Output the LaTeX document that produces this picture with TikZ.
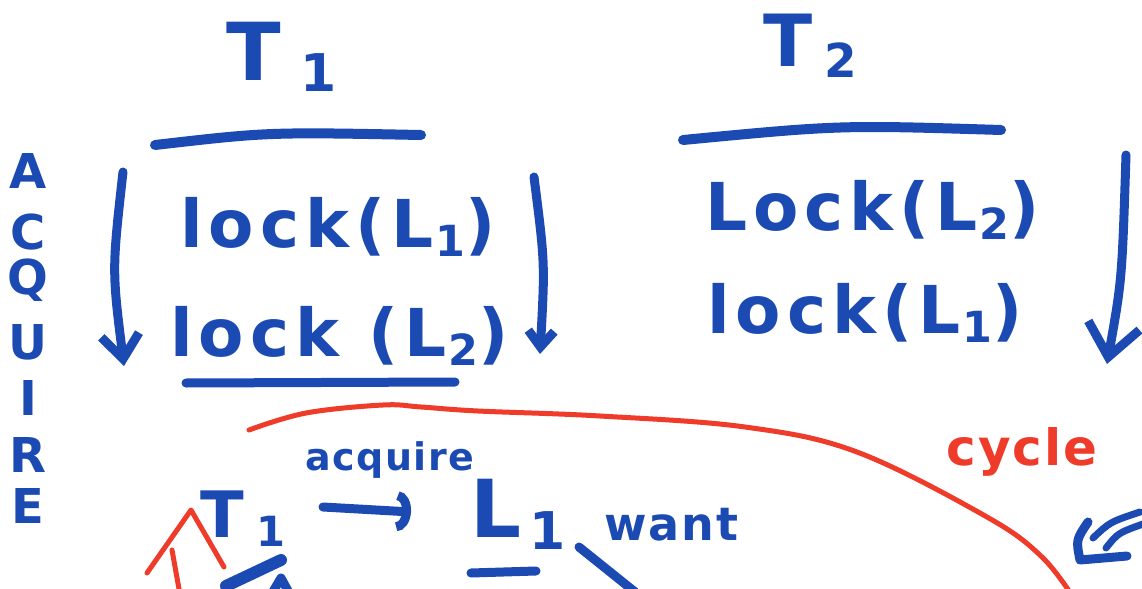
\documentclass[tikz,border=0pt]{standalone}
\usepackage{fontspec}
\usepackage{graphicx}
\newfontfamily\hand[LetterSpace=4]{DejaVu Sans}
\newfontfamily\handwide[LetterSpace=9]{DejaVu Sans}
\usetikzlibrary{arrows.meta}
\definecolor{ink}{HTML}{1B4AB3}
\definecolor{redink}{HTML}{EE3B2A}
\newcommand\hsub[2]{\kern#1\raisebox{-0.15em}{\scalebox{0.65}{#2}}}
\begin{document}
\begin{tikzpicture}[x=0.5pt,y=-0.5pt,
  handtext/.style={text=ink,inner sep=0pt,anchor=base west,font=\hand\bfseries\fontsize{#1}{#1}\selectfont},
  widetext/.style={text=ink,inner sep=0pt,anchor=base west,font=\handwide\bfseries\fontsize{#1}{#1}\selectfont},
  redtext/.style={text=redink,inner sep=0pt,anchor=base west,font=\hand\bfseries\fontsize{#1}{#1}\selectfont},
  stroke/.style={draw=ink,line width=4.5pt,line cap=round,line join=round},
  redstroke/.style={draw=redink,line width=2.5pt,line cap=round,line join=round}]
\useasboundingbox (0,0) rectangle (1142,589);
\clip (0,0) rectangle (1142,589);

% titles
\node[handtext=40] (t1title) at (226,80) {T\hsub{10pt}{1}};
\node[handtext=36] (t2title) at (763,67) {T\hsub{6pt}{2}};
\draw[stroke,line width=5pt] (155,145) .. controls (268,132) .. (421,135);
\draw[stroke,line width=5pt] (683,140) .. controls (840,125) .. (1001,130);

% ACQUIRE
\foreach \ch/\yy [count=\i] in {A/171,C/232,Q/280,U/342,I/398,R/455,E/506}
  \node[text=ink,font=\hand\bfseries\fontsize{24}{24}\selectfont,inner sep=0pt] (acq\i) at (28,\yy) {\ch};

% T1 column
\node[widetext=33] (t1a) at (180,247) {lock(L\hsub{1pt}{1})};
\node[widetext=33] (t1b) at (170,356) {lock (L\hsub{1pt}{2})};
\draw[stroke] (186,383) -- (455,382);
\coordinate (la1) at (123,172);
\coordinate (la2) at (124,366);
\draw[stroke,-{Straight Barb[length=12pt,width=19pt]}] (la1) .. controls (112,270) .. (la2);
\coordinate (ra1) at (534,177);
\coordinate (ra2) at (540,354);
\draw[stroke,-{Straight Barb[length=8pt,width=13pt]}] (ra1) .. controls (545,263) .. (ra2);

% T2 column
\node[widetext=33] (t2a) at (705,230) {Lock(L\hsub{1pt}{2})};
\node[widetext=33] (t2b) at (707,333) {lock(L\hsub{1pt}{1})};
\coordinate (ta1) at (1126,155);
\coordinate (ta2) at (1107,364);
\draw[stroke,-{Straight Barb[length=16pt,width=26pt]}] (ta1) .. controls (1122,280) .. (ta2);

% bottom: cycle
\draw[redstroke] plot[smooth,tension=0.6] coordinates {(249,430) (306,413) (383,405) (421,407) (478,411) (600,416) (745,427) (857,452) (987,517) (1042,557) (1075,600)};
\node[redtext=25] (cycle) at (946,465) {cycle};

\node[handtext=19] (acquire) at (305,470) {acquire};
\node[handtext=32] (t1s) at (200,537) {T\hsub{6pt}{1}};
\node[handtext=40] (l1s) at (470,537) {L\hsub{4pt}{1}};
\node[handtext=23] (want) at (604,540) {want};
\coordinate (aa1) at (323,507);
\coordinate (aa2) at (411,512);
\draw[stroke,-{Arc Barb[length=7pt,width=20pt]}] (aa1) -- (aa2);
\draw[stroke] (471,573) -- (536,571);
\coordinate (wl1) at (579,547);
\coordinate (wl2) at (645,600);
\draw[stroke] (wl1) -- (wl2);

% red caret and line at bottom left
\draw[redstroke] (147,573) -- (191,510) -- (224,567);
\draw[redstroke] (172,550) -- (181,600);
% blue fragments at bottom left
\draw[stroke,line width=6pt] (226,586) -- (281,560);
\draw[stroke] (268,600) -- (281,578) -- (293,600);

% blue double arrowhead at right
\draw[stroke] (1088,522) .. controls (1076,540) .. (1080,560) -- (1127,556);
\draw[stroke,line width=3.5pt] (1093,538) .. controls (1110,522) .. (1140,512);
\draw[stroke,line width=3.5pt] (1106,548) .. controls (1118,533) .. (1143,524);
\end{tikzpicture}
\end{document}
